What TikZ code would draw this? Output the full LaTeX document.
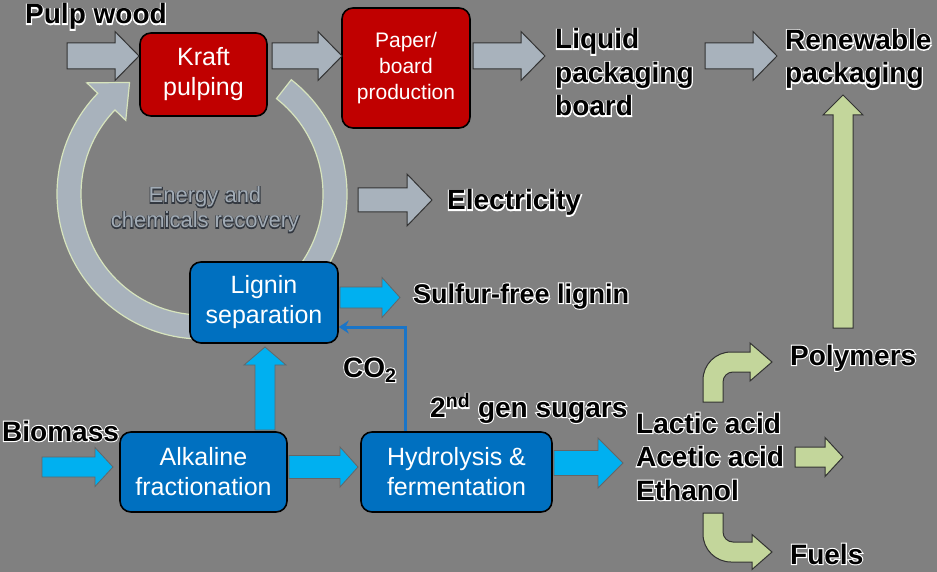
\documentclass[tikz,border=0pt]{standalone}
\usepackage{fontspec}
\setmainfont{Liberation Sans}
\usetikzlibrary{calc,arrows.meta}
\definecolor{bg}{HTML}{808080}
\definecolor{kraftred}{HTML}{C00000}
\definecolor{boxblue}{HTML}{0070C0}
\definecolor{cyanarrow}{HTML}{00B0F0}
\definecolor{grayarrow}{HTML}{A8B2BC}
\definecolor{greenarrow}{HTML}{C3D69B}
\definecolor{ringedge}{HTML}{D7E4BD}
\definecolor{ringtext}{HTML}{A2ACB6}
\definecolor{co2blue}{HTML}{1A75C8}

\newcommand\lblfont{\fontsize{28}{33.5}\selectfont\bfseries}
% outlined text: a stroked (halo) copy under the filled text
\newcommand\olab[1]{\rlap{\special{pdf:code 1 Tr 1 1 1 RG 2.2 w}#1\special{pdf:code 0 Tr}}#1}
\newcommand\dlab[1]{\rlap{\special{pdf:code 1 Tr 0.2 0.22 0.25 RG 1.8 w}#1\special{pdf:code 0 Tr}}#1}
% horizontal block arrow: style, tail, tip, shaft half, head half, head length
\newcommand\harrow[6]{%
  \path[#1] ($(#2)+(0,-#4)$) -- ($(#3)+(-#6,-#4)$) -- ($(#3)+(-#6,-#5)$) -- (#3)
    -- ($(#3)+(-#6,#5)$) -- ($(#3)+(-#6,#4)$) -- ($(#2)+(0,#4)$) -- cycle;}
% upward block arrow: style, tail, tip, shaft half, head half, head length
\newcommand\uarrow[6]{%
  \path[#1] ($(#2)+(-#4,0)$) -- ($(#3)+(-#4,#6)$) -- ($(#3)+(-#5,#6)$) -- (#3)
    -- ($(#3)+(#5,#6)$) -- ($(#3)+(#4,#6)$) -- ($(#2)+(#4,0)$) -- cycle;}

\begin{document}
\begin{tikzpicture}[x=1pt,y=-1pt,
  box/.style={rectangle, rounded corners=11pt, draw=black, line width=1.6pt,
    text=white, align=center, inner sep=0pt},
  redbox/.style={box, fill=kraftred},
  bluebox/.style={box, fill=boxblue, font=\fontsize{25}{30}\selectfont},
  lbl/.style={font=\lblfont, inner sep=0pt, anchor=base west, align=left},
  garrow/.style={fill=grayarrow, draw=black!80, line width=1pt},
  carrow/.style={fill=cyanarrow, draw=black!60, line width=0.8pt},
  lgarrow/.style={fill=greenarrow, draw=black!80, line width=1pt},
  ring/.style={fill=grayarrow, draw=ringedge, line width=1.2pt},
]
\fill[bg] (0,0) rectangle (937,572);
\useasboundingbox (0,0) rectangle (937,572);

% recovery ring
\coordinate (rc) at (202,194);
\path[ring] ($(rc)+(-52:145)$) arc[start angle=-52, end angle=224, radius=145]
  -- ($(rc)+(224:160)$) -- ($(rc)+(237:133)$) -- ($(rc)+(224:106)$)
  -- ($(rc)+(224:121)$) arc[start angle=224, end angle=-52, radius=121] -- cycle;
\node[font=\fontsize{22}{25}\selectfont, text=ringtext, align=center, inner sep=0pt, anchor=base]
  (erec) at (205,228) {\dlab{Energy and}\\\dlab{chemicals recovery}};

% boxes
\node[redbox, minimum width=127, minimum height=83, font=\fontsize{25}{30}\selectfont]
  (kraft) at (203.5,74.5) {Kraft\\pulping};
\node[redbox, minimum width=128, minimum height=120, font=\fontsize{21}{26}\selectfont]
  (paper) at (406,68) {Paper/\\board\\production};
\node[bluebox, minimum width=148, minimum height=81] (lig) at (264,302.5) {Lignin\\separation};
\node[bluebox, minimum width=167, minimum height=80] (alk) at (203.5,472) {Alkaline\\fractionation};
\node[bluebox, minimum width=191, minimum height=80] (hyd) at (456.5,472) {Hydrolysis \&\\fermentation};

% labels
\node[lbl] (pulp) at (25,24) {\olab{Pulp wood}};
\node[lbl] (liq) at (555,116) {\olab{Liquid}\\\olab{packaging}\\\olab{board}};
\node[lbl] (ren) at (785,83) {\olab{Renewable}\\\olab{packaging}};
\node[lbl] (elec) at (447,210) {\olab{Electricity}};
\node[lbl, font=\fontsize{27}{30}\selectfont\bfseries] (sfl) at (413,303) {\olab{Sulfur-free lignin}};
\node[lbl] (co2) at (343,377) {\olab{CO\textsubscript{2}}};
\node[lbl] (sug) at (430,417) {\olab{2\textsuperscript{nd} gen sugars}};
\node[lbl] (bio) at (2,441) {\olab{Biomass}};
\node[lbl] (acids) at (636,500) {\olab{Lactic acid}\\\olab{Acetic acid}\\\olab{Ethanol}};
\node[lbl] (poly) at (790,365) {\olab{Polymers}};
\node[lbl] (fuel) at (790,564) {\olab{Fuels}};

% gray arrows
\coordinate (a1t) at (67,56);  \coordinate (a1h) at (139,56);
\coordinate (a2t) at (272,56); \coordinate (a2h) at (342,56);
\coordinate (a3t) at (473,56); \coordinate (a3h) at (545,56);
\coordinate (a4t) at (705,56); \coordinate (a4h) at (777,56);
\coordinate (a5t) at (358,200); \coordinate (a5h) at (432,200);
\harrow{garrow}{a1t}{a1h}{13}{24.5}{24}
\harrow{garrow}{a2t}{a2h}{13}{24.5}{24}
\harrow{garrow}{a3t}{a3h}{13}{24.5}{24}
\harrow{garrow}{a4t}{a4h}{13}{24.5}{24}
\harrow{garrow}{a5t}{a5h}{12}{26}{25}

% cyan arrows
\coordinate (b1t) at (340,297.5); \coordinate (b1h) at (400,297.5);
\coordinate (b2t) at (42,467);  \coordinate (b2h) at (113,467);
\coordinate (b3t) at (289,467); \coordinate (b3h) at (358,467);
\coordinate (b4t) at (554,463); \coordinate (b4h) at (623,463);
\coordinate (b5t) at (265,430); \coordinate (b5h) at (265,347);
\harrow{carrow}{b1t}{b1h}{10.5}{20}{18}
\harrow{carrow}{b2t}{b2h}{10}{19.5}{18}
\harrow{carrow}{b3t}{b3h}{11.5}{20}{18}
\harrow{carrow}{b4t}{b4h}{12.5}{25}{25}
\uarrow{carrow}{b5t}{b5h}{10}{21}{18}

% green arrows
\coordinate (g1t) at (795,457); \coordinate (g1h) at (843,457);
\coordinate (g2t) at (843,328); \coordinate (g2h) at (843,95);
\harrow{lgarrow}{g1t}{g1h}{10}{19.5}{18}
\uarrow{lgarrow}{g2t}{g2h}{10}{20}{20}
\path[lgarrow] (703,402) -- (703,380) arc[start angle=180, end angle=270, radius=28]
  -- (750,352) -- (750,343) -- (772,362) -- (750,381) -- (750,372) -- (733,372)
  arc[start angle=270, end angle=180, radius=10] -- (723,402) -- cycle;
\path[lgarrow] (703,513) -- (703,534) arc[start angle=180, end angle=90, radius=28]
  -- (752,562) -- (752,569.5) -- (772,552) -- (752,534.5) -- (752,542) -- (733,542)
  arc[start angle=90, end angle=180, radius=10] -- (723,513) -- cycle;

% CO2 return line
\coordinate (co2x) at (405,327);
\draw[co2blue, line width=3pt, -{Stealth[length=10pt,width=13pt]}]
  (hyd.north -| co2x) |- (lig.east |- co2x);
\end{tikzpicture}
\end{document}
